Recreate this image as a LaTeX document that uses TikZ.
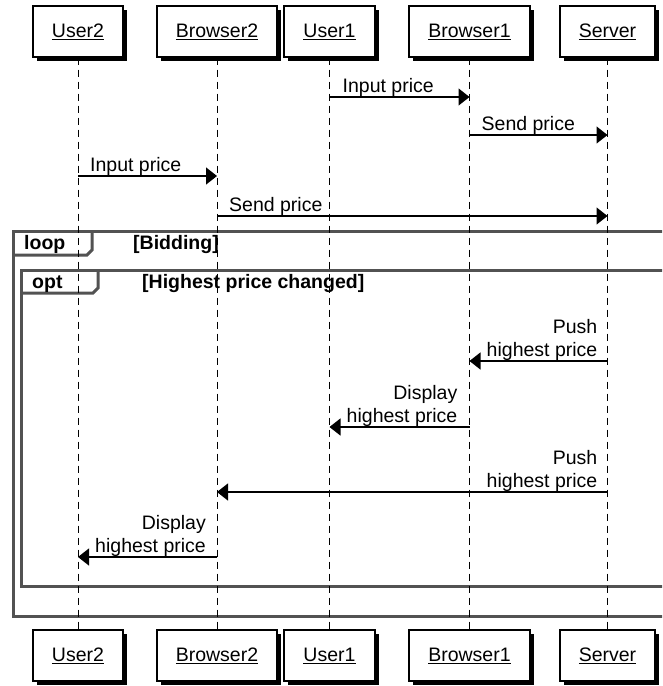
\documentclass[tikz,border=0pt]{standalone}
\usepackage{fontspec}
\setmainfont{Liberation Sans}
\usetikzlibrary{arrows.meta,shadows}

\tikzset{
  actor/.style={draw=black, line width=1.3pt, fill=white, minimum height=51pt,
    inner sep=0pt, font=\fontsize{19.5}{23}\selectfont,
    drop shadow={shadow xshift=4pt, shadow yshift=-4pt, fill=black, opacity=1}},
  lifeline/.style={line width=1pt, dash pattern=on 7pt off 5pt},
  msg/.style={line width=1.3pt, -{Triangle[length=11pt,width=17pt]}},
  lbl/.style={inner sep=0pt, font=\fontsize{19.5}{23}\selectfont},
  lblr/.style={lbl, align=right, anchor=south east},
  lbll/.style={lbl, anchor=south west},
  frame/.style={draw=black!68, line width=3pt, line join=miter},
  flabel/.style={inner sep=0pt, anchor=base west, font=\fontsize{19.5}{23}\selectfont\bfseries}
}

\begin{document}
\begin{tikzpicture}[x=1pt, y=-1pt]
  \useasboundingbox (0,0) rectangle (662,686);
  \clip (0,0) rectangle (662,686);

  % combined fragments
  \draw[frame] (13,231) rectangle (720,616);
  \draw[frame] (13,255) -- (87,255) -- (92,250) -- (92,231);
  \node[flabel] (loopk) at (24,249) {loop};
  \node[flabel] (loopg) at (133,249) {[Bidding]};

  \draw[frame] (21,270) rectangle (720,586);
  \draw[frame] (21,293) -- (93,293) -- (98,288) -- (98,270);
  \node[flabel] (optk) at (32,288) {opt};
  \node[flabel] (optg) at (142,288) {[Highest price changed]};

  % participants, top row
  \node[actor, minimum width=90pt]  (tU2) at (78,31.5)    {\underline{User2}};
  \node[actor, minimum width=120pt] (tB2) at (217,31.5)   {\underline{Browser2}};
  \node[actor, minimum width=91pt]  (tU1) at (329.5,31.5) {\underline{User1}};
  \node[actor, minimum width=121pt] (tB1) at (469.5,31.5) {\underline{Browser1}};
  \node[actor, minimum width=95pt]  (tS)  at (607.5,31.5) {\underline{Server}};

  % participants, bottom row
  \node[actor, minimum width=90pt]  (bU2) at (78,655.5)    {\underline{User2}};
  \node[actor, minimum width=120pt] (bB2) at (217,655.5)   {\underline{Browser2}};
  \node[actor, minimum width=91pt]  (bU1) at (329.5,655.5) {\underline{User1}};
  \node[actor, minimum width=121pt] (bB1) at (469.5,655.5) {\underline{Browser1}};
  \node[actor, minimum width=95pt]  (bS)  at (607.5,655.5) {\underline{Server}};

  % lifelines
  \foreach \p in {U2,B2,U1,B1,S}
    \draw[lifeline] (t\p.south) -- (b\p.north);

  % message rows
  \coordinate (y1) at (0,97);
  \coordinate (y2) at (0,135);
  \coordinate (y3) at (0,176);
  \coordinate (y4) at (0,216);
  \coordinate (y5) at (0,361);
  \coordinate (y6) at (0,427);
  \coordinate (y7) at (0,492);
  \coordinate (y8) at (0,557);

  \draw[msg] (tU1 |- y1) -- (tB1 |- y1);
  \node[lbll] (l1) at ([xshift=13pt,yshift=0.5pt]tU1 |- y1) {Input price};

  \draw[msg] (tB1 |- y2) -- (tS |- y2);
  \node[lbll] (l2) at ([xshift=12pt,yshift=0.5pt]tB1 |- y2) {Send price};

  \draw[msg] (tU2 |- y3) -- (tB2 |- y3);
  \node[lbll] (l3) at ([xshift=12pt,yshift=0.5pt]tU2 |- y3) {Input price};

  \draw[msg] (tB2 |- y4) -- (tS |- y4);
  \node[lbll] (l4) at ([xshift=12pt,yshift=0.5pt]tB2 |- y4) {Send price};

  \draw[msg] (tS |- y5) -- (tB1 |- y5);
  \node[lblr] (l5) at ([xshift=-10pt,yshift=0.5pt]tS |- y5) {Push\\highest price};

  \draw[msg] (tB1 |- y6) -- (tU1 |- y6);
  \node[lblr] (l6) at ([xshift=-12pt,yshift=0.5pt]tB1 |- y6) {Display\\highest price};

  \draw[msg] (tS |- y7) -- (tB2 |- y7);
  \node[lblr] (l7) at ([xshift=-10pt,yshift=0.5pt]tS |- y7) {Push\\highest price};

  \draw[msg] (tB2 |- y8) -- (tU2 |- y8);
  \node[lblr] (l8) at ([xshift=-11pt,yshift=0.5pt]tB2 |- y8) {Display\\highest price};
\end{tikzpicture}
\end{document}
